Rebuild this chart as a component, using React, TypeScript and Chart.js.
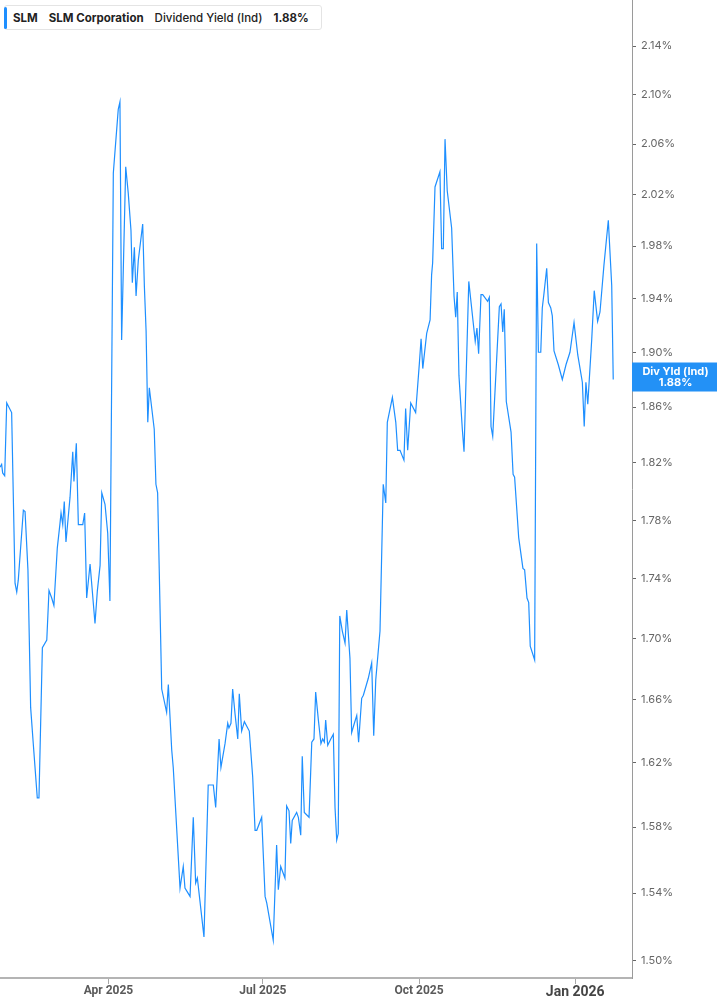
import React, { useEffect, useRef } from 'react';
import { Chart, registerables } from 'chart.js';

Chart.register(...registerables);

// Days since 2025-01-01 for each observation
const days = [
  26.1, 27.1, 27.7, 28.9, 30.1, 33.0, 35.0, 36.0, 36.9, 39.9, 40.9, 42.6, 44.2, 45.6, 48.1, 49.1,
  51.1, 53.7, 55.0, 56.6, 57.9, 59.9, 61.5, 62.1, 63.1, 64.0, 65.0, 67.4, 69.0, 69.7, 71.1, 72.3,
  74.9, 76.0, 77.2, 79.2, 82.1, 83.5, 85.1, 86.1, 88.0, 89.6, 90.9, 92.9, 95.8, 96.8, 97.8, 100.2,
  101.7, 103.3, 104.1, 105.3, 106.3, 107.6, 110.2, 111.2, 112.2, 113.2, 114.1, 117.0, 118.0, 119.0,
  121.4, 124.3, 125.3, 127.3, 128.2, 132.2, 134.1, 135.1, 138.1, 140.0, 141.4, 142.4, 146.3, 148.8,
  151.8, 153.2, 155.2, 156.3, 158.7, 160.3, 161.0, 162.2, 163.2, 164.6, 166.2, 167.1, 168.5, 170.1,
  173.0, 175.0, 176.4, 177.4, 180.3, 182.3, 183.3, 187.1, 189.1, 190.1, 191.5, 194.0, 195.0, 196.4,
  197.4, 198.3, 200.9, 201.9, 203.3, 204.2, 205.4, 208.2, 209.8, 211.1, 212.1, 213.7, 215.2, 216.2,
  217.2, 218.0, 219.2, 221.0, 222.5, 223.5, 224.5, 225.4, 226.3, 227.8, 229.4, 230.4, 232.3, 233.3,
  234.9, 236.3, 237.4, 239.2, 240.2, 243.1, 245.1, 246.3, 247.5, 250.0, 251.9, 253.4, 254.3, 257.3,
  259.3, 260.4, 261.8, 264.1, 265.1, 266.3, 268.1, 271.0, 273.2, 274.2, 275.2, 277.5, 279.5, 280.4,
  281.0, 282.4, 285.3, 286.3, 287.3, 288.3, 289.6, 292.2, 293.6, 294.6, 295.5, 296.5, 298.5, 299.5,
  302.3, 306.1, 307.1, 308.1, 309.5, 310.5, 313.4, 314.4, 315.4, 316.4, 320.3, 321.3, 322.3, 323.2,
  324.4, 327.2, 328.4, 329.3, 331.7, 334.2, 335.2, 336.6, 337.6, 338.5, 341.1, 342.3, 343.3, 344.7,
  345.6, 346.6, 348.2, 349.2, 350.6, 351.5, 352.5, 355.0, 357.4, 359.6, 361.9, 364.3, 366.5, 369.2,
  370.3, 371.3, 372.4, 374.7, 376.2, 378.2, 379.6, 381.9, 384.5, 386.5, 387.4,
];

// Dividend yield (%) for SLM
const yields = [
  1.817, 1.819, 1.813, 1.811, 1.863, 1.856, 1.737, 1.731, 1.739, 1.787, 1.786, 1.746, 1.655, 1.634, 1.598, 1.598,
  1.694, 1.699, 1.732, 1.727, 1.722, 1.761, 1.778, 1.785, 1.777, 1.793, 1.765, 1.796, 1.828, 1.807, 1.834, 1.777,
  1.777, 1.785, 1.727, 1.750, 1.710, 1.732, 1.749, 1.799, 1.791, 1.771, 1.725, 2.037, 2.088, 2.094, 1.909, 2.042,
  2.021, 1.992, 1.952, 1.979, 1.942, 1.969, 1.997, 1.949, 1.916, 1.849, 1.874, 1.844, 1.805, 1.799,
  1.667, 1.652, 1.670, 1.628, 1.617, 1.543, 1.556, 1.543, 1.538, 1.586, 1.546, 1.549, 1.514, 1.606,
  1.606, 1.592, 1.635, 1.617, 1.632, 1.645, 1.642, 1.645, 1.667, 1.651, 1.635, 1.664, 1.640, 1.646,
  1.640, 1.611, 1.578, 1.578, 1.586, 1.538, 1.534, 1.512, 1.569, 1.542, 1.556, 1.549, 1.593, 1.590,
  1.570, 1.584, 1.589, 1.586, 1.575, 1.624, 1.589, 1.586, 1.633, 1.635, 1.665, 1.647, 1.632, 1.635,
  1.633, 1.647, 1.631, 1.635, 1.638, 1.592, 1.572, 1.576, 1.715, 1.705, 1.697, 1.719, 1.687, 1.639,
  1.645, 1.650, 1.633, 1.661, 1.663, 1.674, 1.684, 1.637, 1.673, 1.705, 1.805, 1.792, 1.849, 1.867,
  1.849, 1.829, 1.829, 1.822, 1.859, 1.829, 1.863, 1.856, 1.892, 1.910, 1.888, 1.914, 1.924, 1.958,
  1.967, 2.026, 2.038, 1.978, 1.978, 2.064, 2.023, 1.994, 1.942, 1.926, 1.945, 1.883, 1.844, 1.828,
  1.953, 1.908, 1.918, 1.899, 1.943, 1.943, 1.938, 1.941, 1.846, 1.839, 1.934, 1.936, 1.915, 1.932,
  1.864, 1.842, 1.812, 1.810, 1.768, 1.747, 1.746, 1.727, 1.724, 1.695, 1.686, 1.982, 1.900, 1.900,
  1.933, 1.944, 1.963, 1.937, 1.933, 1.927, 1.901, 1.891, 1.880, 1.891, 1.900, 1.922, 1.898, 1.878,
  1.846, 1.878, 1.862, 1.909, 1.946, 1.923, 1.930, 1.965, 2.000, 1.950, 1.880,
];

const yTickValues = [1.5, 1.54, 1.58, 1.62, 1.66, 1.7, 1.74, 1.78, 1.82, 1.86, 1.9, 1.94, 1.98, 2.02, 2.06, 2.1, 2.14];
const xTickDates = ['2025-04-01', '2025-07-01', '2025-10-01', '2026-01-01'];
const xTickLabels = ['Apr 2025', 'Jul 2025', 'Oct 2025', 'Jan 2026'];

const ticker = 'SLM';
const company = 'SLM Corporation';
const metric = 'Dividend Yield (Ind)';
const badgeTitle = 'Div Yld (Ind)';

const dayOf = (iso: string) => {
  const [y, m, d] = iso.split('-').map(Number);
  return (Date.UTC(y, m - 1, d) - Date.UTC(2025, 0, 1)) / 86400000;
};

const W = 717;
const H = 1005;
const LINE = '#1e8fff';
const BADGE = '#2391f6';
const NARROW = "'Liberation Sans Narrow', 'Arial Narrow', 'Roboto', sans-serif";

export default function App() {
  const ref = useRef<HTMLCanvasElement | null>(null);
  const lastVal = yields[yields.length - 1];

  useEffect(() => {
    document.body.style.margin = '0';
    const canvas = ref.current;
    if (!canvas) return;
    const tickDays = xTickDates.map(dayOf);

    const badge = {
      id: 'badge',
      afterDraw(chart: any) {
        const { ctx, chartArea, scales } = chart;
        const y = scales.y.getPixelForValue(lastVal);
        const x0 = chartArea.right;
        const x1 = chart.width;
        ctx.save();
        ctx.fillStyle = BADGE;
        ctx.fillRect(x0, y - 17, x1 - x0, 29);
        ctx.fillStyle = '#ffffff';
        ctx.textAlign = 'center';
        ctx.textBaseline = 'middle';
        ctx.font = "bold 11px Inter, 'Noto Sans', sans-serif";
        const cx = (x0 + x1) / 2 + 1;
        ctx.fillText(badgeTitle, cx, y - 7.5);
        ctx.fillText(lastVal.toFixed(2) + '%', cx, y + 3.5);
        ctx.restore();
      },
    };

    const chart = new Chart(canvas, {
      type: 'line',
      data: {
        datasets: [
          {
            data: days.map((d, i) => ({ x: d, y: yields[i] })),
            borderColor: LINE,
            borderWidth: 1.2,
            pointRadius: 0,
            tension: 0,
            fill: false,
          },
        ],
      },
      options: {
        animation: false,
        responsive: false,
        devicePixelRatio: 1,
        layout: { padding: 0 },
        plugins: { legend: { display: false }, tooltip: { enabled: false } },
        scales: {
          x: {
            type: 'linear',
            position: 'bottom',
            min: 26.14,
            max: 398.45,
            afterBuildTicks: (s: any) => {
              s.ticks = tickDays.map((v) => ({ value: v }));
            },
            afterFit: (s: any) => {
              s.height = H - 978;
              s.paddingLeft = 0;
              s.paddingRight = 0;
            },
            grid: {
              display: true,
              drawOnChartArea: false,
              drawTicks: true,
              tickLength: 6,
              color: '#a8a8a8',
              lineWidth: 1,
            },
            border: { display: true, color: '#b4b4b4', width: 2 },
            ticks: {
              autoSkip: false,
              maxRotation: 0,
              padding: 0,
              callback: (v: any) => {
                const i = tickDays.indexOf(Number(v));
                return i >= 0 ? xTickLabels[i] : '';
              },
              color: (c: any) => (c.tick && c.tick.value === tickDays[3] ? '#454545' : '#5a5a5a'),
              font: (c: any) =>
                c.tick && c.tick.value === tickDays[3]
                  ? { family: NARROW, size: 14, weight: 'bold' }
                  : { family: NARROW, size: 12, weight: 'bold' },
            },
          },
          y: {
            type: 'logarithmic',
            position: 'right',
            min: 1.49186,
            max: 2.17863,
            afterBuildTicks: (s: any) => {
              s.ticks = yTickValues.map((v) => ({ value: v }));
            },
            afterFit: (s: any) => {
              s.width = W - 632;
              s.paddingTop = 0;
              s.paddingBottom = 0;
            },
            grid: {
              display: true,
              drawOnChartArea: false,
              drawTicks: true,
              tickLength: 4,
              color: '#666666',
              lineWidth: 1,
            },
            border: { display: true, color: '#9a9a9a', width: 1 },
            ticks: {
              autoSkip: false,
              padding: 5,
              color: '#666666',
              font: { family: "Inter, 'Noto Sans', sans-serif", size: 11 },
              callback: (v: any) => Number(v).toFixed(2) + '%',
            },
          },
        },
      },
      plugins: [badge],
    } as any);

    return () => chart.destroy();
  }, []);

  return (
    <div style={{ position: 'fixed', left: 0, top: 0, width: W, height: H, background: '#fff' }}>
      <canvas ref={ref} width={W} height={H} style={{ width: W, height: H, display: 'block' }} />
      <div
        style={{
          position: 'absolute',
          left: 4,
          top: 5,
          width: 318,
          height: 25,
          border: '1px solid #e4e4e4',
          borderRadius: 3,
          background: '#fff',
          boxSizing: 'border-box',
          display: 'flex',
          alignItems: 'center',
          paddingLeft: 8,
          gap: 11,
          fontFamily: "Inter, 'Noto Sans', sans-serif",
          fontSize: 11.5,
          color: '#222',
          whiteSpace: 'nowrap',
        }}
      >
        <div
          style={{
            position: 'absolute',
            left: -1,
            top: 1,
            width: 3,
            height: 22,
            background: LINE,
            borderRadius: 2,
          }}
        />
        <span style={{ fontWeight: 700 }}>{ticker}</span>
        <span style={{ fontWeight: 700 }}>{company}</span>
        <span style={{ fontWeight: 500 }}>{metric}</span>
        <span style={{ fontWeight: 700 }}>{lastVal.toFixed(2) + '%'}</span>
      </div>
    </div>
  );
}
